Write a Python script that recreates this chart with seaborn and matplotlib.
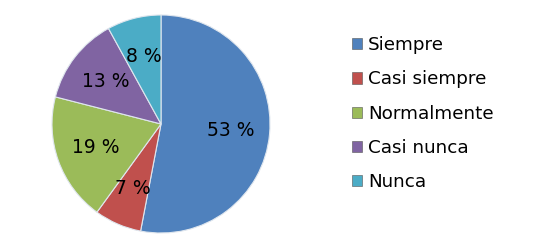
import matplotlib
matplotlib.use('Agg')
import matplotlib.pyplot as plt
import matplotlib.patches as mpatches
import seaborn as sns

categories = ['Siempre', 'Casi siempre', 'Normalmente', 'Casi nunca', 'Nunca']
values = [53, 7, 19, 13, 8]
colors = ['#4F81BD', '#C0504D', '#9BBB59', '#8064A2', '#4BACC6']

sns.set_style('white')
plt.rcParams['font.family'] = ['DejaVu Sans']
plt.rcParams['text.color'] = 'black'

fig = plt.figure(figsize=(5.49, 2.43), dpi=100)
ax = fig.add_axes([52 / 549, 10 / 243, 218 / 549, 218 / 243])

palette = sns.color_palette(colors)
wedges, texts, autotexts = ax.pie(
    values, colors=palette, startangle=90, counterclock=False,
    autopct=lambda p: f'{round(p)} %', pctdistance=0.64,
    wedgeprops=dict(edgecolor='#dfe6ee', linewidth=0.8),
    textprops=dict(fontsize=13.5, color='black'))
ax.set_xlim(-1.0, 1.0)
ax.set_ylim(-1.0, 1.0)
ax.set_aspect('equal')
ax.axis('off')

handles = [mpatches.Patch(facecolor=c, edgecolor='#555555', linewidth=0.4) for c in palette]
leg = fig.legend(handles, categories, loc='upper left', bbox_to_anchor=(345 / 549, 1 - 29 / 243),
                 frameon=False, fontsize=13.2, handlelength=0.55, handleheight=0.55,
                 handletextpad=0.3, labelspacing=0.88, borderaxespad=0)
for t in leg.get_texts():
    t.set_color('black')

fig.savefig('out.png', dpi=100)
